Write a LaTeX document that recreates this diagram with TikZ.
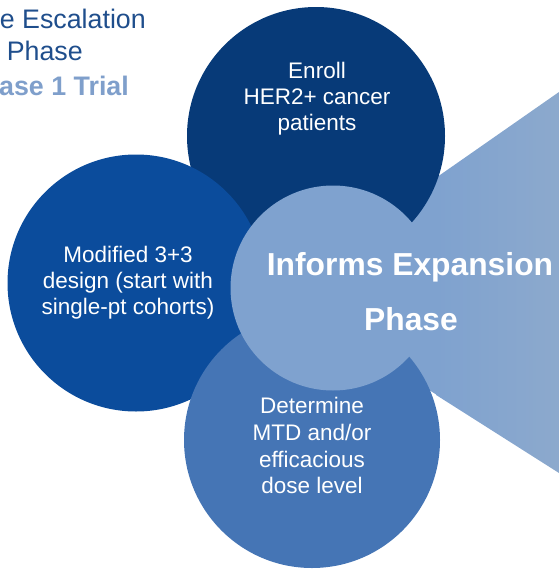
\documentclass[tikz,border=0pt]{standalone}
\usepackage{fontspec}
\setmainfont{Liberation Sans}
\definecolor{navy}{HTML}{073A78}
\definecolor{midblue}{HTML}{0B4C9C}
\definecolor{softblue}{HTML}{4575B5}
\definecolor{paleblue}{HTML}{7FA2CF}
\definecolor{wedgeR}{HTML}{8CA9CD}
\definecolor{titledark}{HTML}{1F4E8C}
\definecolor{titlelight}{HTML}{7F9FCB}
\tikzset{
  bubble/.style={circle, inner sep=0pt, draw=none},
  bubtext/.style={anchor=base, inner sep=0pt, text=white, font=\fontsize{22.5}{26}\selectfont},
  bigtext/.style={anchor=base, inner sep=0pt, text=white, font=\fontsize{31.8}{36}\selectfont\bfseries},
  title/.style={anchor=base east, inner sep=0pt, font=\fontsize{26.8}{30}\selectfont}
}
\begin{document}
\begin{tikzpicture}[x=1pt,y=-1pt]
\useasboundingbox (0,0) rectangle (559,570);
\clip (0,0) rectangle (559,570);
% wedge toward expansion phase
\fill[paleblue] (330,252) -- (437,177) -- (437,395) -- (330,328) -- cycle;
\shade[left color=paleblue, right color=wedgeR] (436,177.8) -- (559,92) -- (559,473) -- (436,394.9) -- cycle;
% circles
\node[bubble, fill=navy, minimum size=258pt] (enroll) at (316,136) {};
\node[bubble, fill=midblue, minimum size=257pt] (design) at (136,283) {};
\node[bubble, fill=softblue, minimum size=256pt] (dose) at (312,440) {};
\node[bubble, fill=paleblue, minimum size=205pt] (informs) at (333,288) {};
% circle texts
\node[bubtext] (e1) at (317,78) {Enroll};
\node[bubtext] (e2) at (317,104) {HER2+ cancer};
\node[bubtext] (e3) at (317,130) {patients};
\node[bubtext] (m1) at (128,262) {Modified 3+3};
\node[bubtext] (m2) at (128,288) {design (start with};
\node[bubtext] (m3) at (128,314) {single-pt cohorts)};
\node[bubtext] (d1) at (312,413) {Determine};
\node[bubtext] (d2) at (312,440) {MTD and/or};
\node[bubtext] (d3) at (312,467) {efficacious};
\node[bubtext] (d4) at (312,493) {dose level};
\node[bigtext] (i1) at (410,275) {Informs Expansion};
\node[bigtext] (i2) at (411,330) {Phase};
% title
\node[title, text=titledark] (t1) at (146,28) {e Escalation};
\node[title, text=titledark] (t2) at (83,60) {Phase};
\node[title, text=titlelight, font=\fontsize{26.8}{30}\selectfont\bfseries] (t3) at (129,95) {ase 1 Trial};
\end{tikzpicture}
\end{document}
